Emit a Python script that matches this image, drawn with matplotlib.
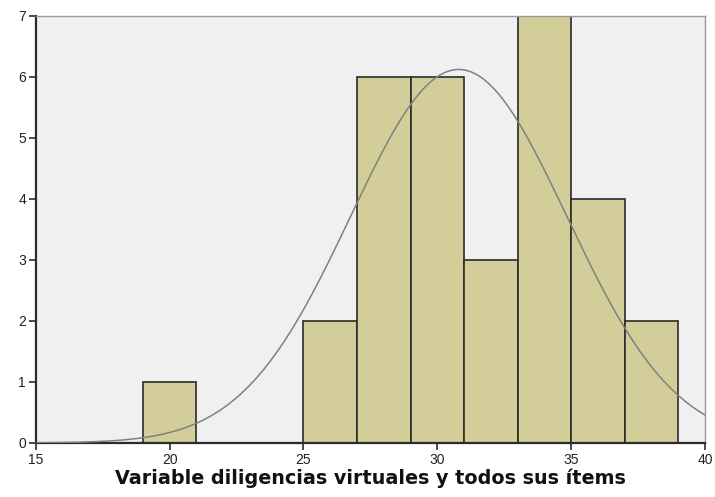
import numpy as np
import matplotlib
matplotlib.use("Agg")
from matplotlib import pyplot as plt

# bins del histograma y frecuencias
bordes = [19, 21, 23, 25, 27, 29, 31, 33, 35, 37, 39]
frecuencias = [1, 0, 0, 2, 6, 6, 3, 7, 4, 2]
media = 30.8
desv = 4.04
n_total = 31
ancho_bin = 2

xticks = [15, 20, 25, 30, 35, 40]
yticks = [0, 1, 2, 3, 4, 5, 6, 7]
etiqueta_x = "Variable diligencias virtuales y todos sus ítems"

fig = plt.figure(figsize=(7.15, 4.97), dpi=100)
ax = fig.add_axes([0.050, 0.1087, 0.936, 0.8593])
ax.set_facecolor("#f0f0f0")

izq = bordes[:-1]
ax.bar(izq, frecuencias, width=ancho_bin, align="edge",
       color="#d3ce99", edgecolor="#2b2b2b", linewidth=1.2, zorder=2)

# curva normal
xs = np.linspace(15, 40, 400)
ys = n_total * ancho_bin / (desv * np.sqrt(2 * np.pi)) * np.exp(-0.5 * ((xs - media) / desv) ** 2)
ax.plot(xs, ys, color="#808080", linewidth=1.1, zorder=3)

ax.set_xlim(15, 40)
ax.set_ylim(0, 7)
ax.set_xticks(xticks)
ax.set_yticks(yticks)
ax.tick_params(direction="out", length=5, width=1.2, color="#2b2b2b",
               labelsize=10, pad=2, labelcolor="#222222")
for lab in ax.get_xticklabels() + ax.get_yticklabels():
    lab.set_family("Liberation Sans")

for lado in ["left", "bottom"]:
    ax.spines[lado].set_color("#2b2b2b")
    ax.spines[lado].set_linewidth(1.6)
for lado in ["top", "right"]:
    ax.spines[lado].set_color("#999999")
    ax.spines[lado].set_linewidth(1.0)

ax.set_xlabel(etiqueta_x, fontsize=13.8, fontweight="bold", family="DejaVu Sans",
              color="#111111", labelpad=1)

fig.savefig("out.png", dpi=100)
